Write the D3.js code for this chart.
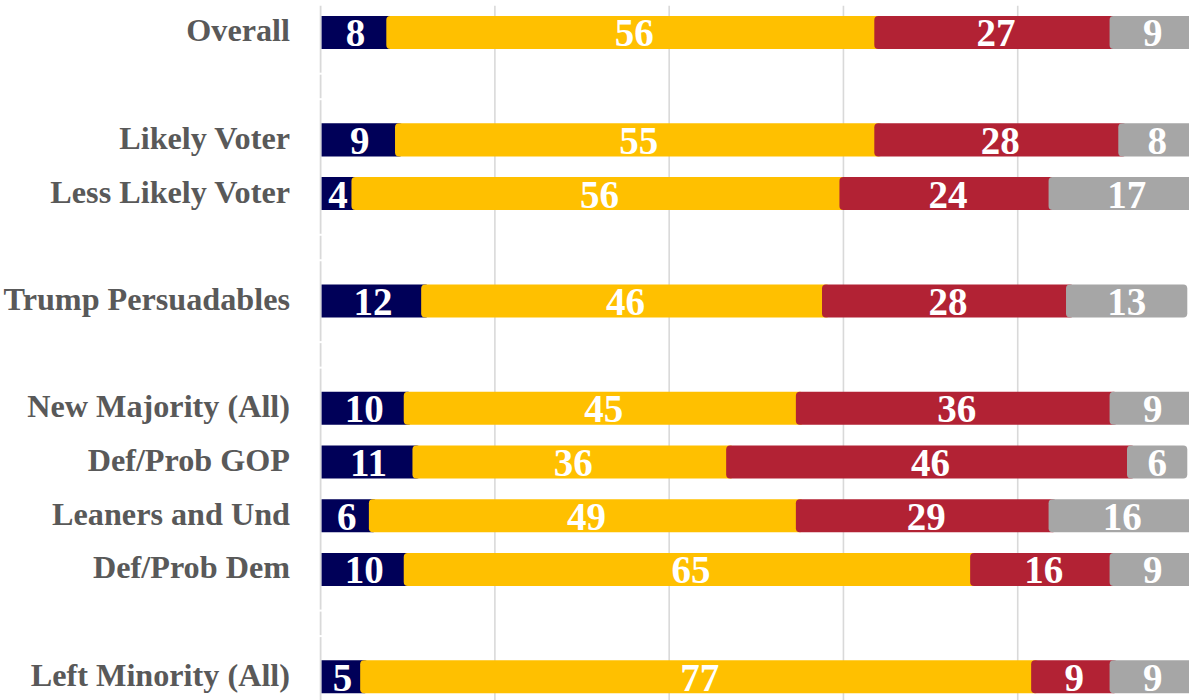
<!DOCTYPE html>
<html>
<head>
<meta charset="utf-8">
<script src="https://cdn.jsdelivr.net/npm/d3@7"></script>
<style>
  html, body { margin: 0; padding: 0; background: #ffffff; overflow: hidden; }
  svg { display: block; }
</style>
</head>
<body>
<svg id="chart" width="1189" height="700"></svg>
<script>
// ---- data ----
const categories = ["Overall", "", "Likely Voter", "Less Likely Voter", "", "Trump Persuadables", "",
  "New Majority (All)", "Def/Prob GOP", "Leaners and Und", "Def/Prob Dem", "", "Left Minority (All)"];
const seriesNames = ["Series 1", "Series 2", "Series 3", "Series 4"];
const series1 = [8, null, 9, 4, null, 12, null, 10, 11, 6, 10, null, 5];
const series2 = [56, null, 55, 56, null, 46, null, 45, 36, 49, 65, null, 77];
const series3 = [27, null, 28, 24, null, 28, null, 36, 46, 29, 16, null, 9];
const series4 = [9, null, 8, 17, null, 13, null, 9, 6, 16, 9, null, 9];
const colors = ["#000058", "#FFC000", "#B22234", "#A6A6A6"];
const xTicks = [0, 20, 40, 60, 80, 100];

// ---- layout ----
const svg = d3.select("#chart");
const plotLeft = 320.6, plotRight = 1192, plotTop = 5.65;
const step = 53.69;
const plotBottom = plotTop + step * categories.length;

const x = d3.scaleLinear().domain([0, 100]).range([plotLeft, plotRight]);
const y = d3.scaleBand().domain(d3.range(categories.length))
  .range([plotTop, plotBottom]).paddingInner(0.385).paddingOuter(0.1925);

const allSeries = [series1, series2, series3, series4];

// clip for bars
svg.append("defs").append("clipPath").attr("id", "plotclip")
  .append("rect").attr("x", plotLeft + 1).attr("y", 0).attr("width", 2000).attr("height", 800);

// gridlines
svg.append("g").selectAll("line").data(xTicks.filter(d => d > 0 && d < 100)).join("line")
  .attr("x1", d => x(d)).attr("x2", d => x(d))
  .attr("y1", plotTop).attr("y2", 700)
  .attr("stroke", "#d9d9d9").attr("stroke-width", 1.6);

// category axis line (with small breaks at empty rows)
svg.append("line").attr("x1", plotLeft).attr("x2", plotLeft)
  .attr("y1", plotTop).attr("y2", 700)
  .attr("stroke", "#d9d9d9").attr("stroke-width", 1.8);
const emptyIdx = categories.map((c, i) => c === "" ? i : -1).filter(i => i >= 0);
svg.append("g").selectAll("rect").data(emptyIdx.flatMap(i => [i, i])).join("rect")
  .attr("x", plotLeft - 2).attr("width", 4)
  .attr("y", (d, j) => y(d) + y.bandwidth() / 2 + (j % 2 === 0 ? -13.5 : 12) )
  .attr("height", 2).attr("fill", "#ffffff");

// stacked data
const rows = categories.map((c, i) => {
  let acc = 0;
  const segs = allSeries.map((s, k) => {
    const v = s[i];
    const seg = { k, v, start: acc, end: acc + (v || 0) };
    acc += (v || 0);
    return seg;
  });
  return { i, c, segs };
}).filter(r => r.c !== "");

const r = 4;
const barG = svg.append("g").attr("clip-path", "url(#plotclip)");
rows.forEach(row => {
  row.segs.forEach(s => {
    barG.append("rect")
      .attr("x", x(s.start) - r)
      .attr("y", y(row.i))
      .attr("width", x(s.end) - x(s.start) + 2 * r)
      .attr("height", y.bandwidth())
      .attr("rx", r).attr("ry", r)
      .attr("fill", colors[s.k]);
  });
});

// value labels
const valG = svg.append("g");
rows.forEach(row => {
  row.segs.forEach(s => {
    valG.append("text")
      .attr("x", x((s.start + s.end) / 2))
      .attr("y", y(row.i) + y.bandwidth() / 2 + 14)
      .attr("text-anchor", "middle")
      .attr("font-family", "Liberation Serif, serif")
      .attr("font-weight", "bold")
      .attr("font-size", 39)
      .attr("fill", "#ffffff")
      .text(s.v);
  });
});

// category labels
svg.append("g").selectAll("text").data(rows).join("text")
  .attr("x", 290)
  .attr("y", d => y(d.i) + y.bandwidth() / 2 + 9)
  .attr("text-anchor", "end")
  .attr("font-family", "Liberation Serif, serif")
  .attr("font-weight", "bold")
  .attr("font-size", 32.2)
  .attr("fill", "#595959")
  .text(d => d.c);
</script>
</body>
</html>
